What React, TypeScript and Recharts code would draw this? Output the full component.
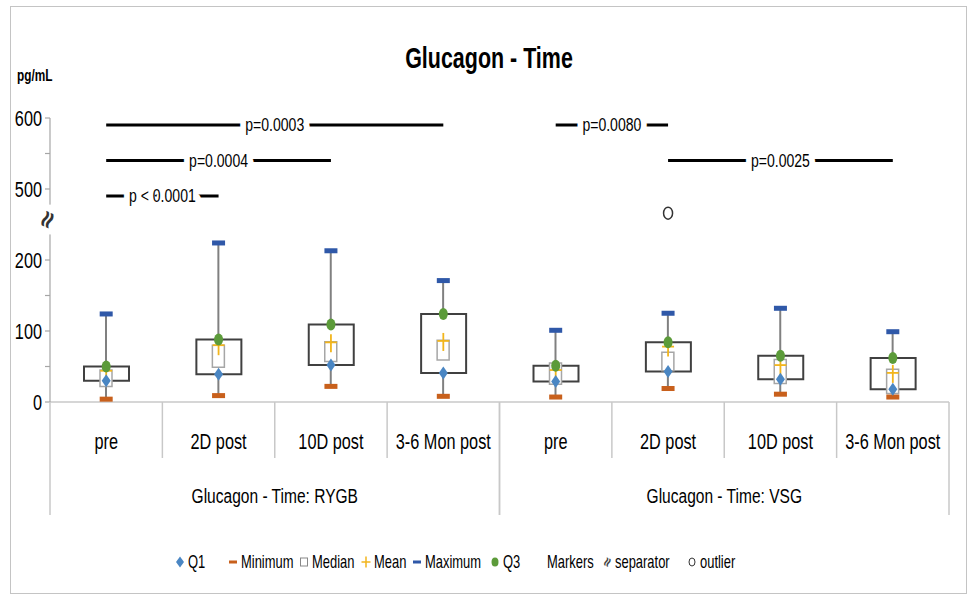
import React from "react";
import { Bar, ComposedChart, ReferenceLine, Scatter, XAxis, YAxis } from "recharts";

// no narrow font on the box, so Liberation Sans is squeezed horizontally
const FONT = "'Liberation Sans', Arial, sans-serif";
const SQUEEZE = 0.74;

const timepoints = ["pre", "2D post", "10D post", "3-6 Mon post", "pre", "2D post", "10D post", "3-6 Mon post"];
const groups = [
  "Glucagon - Time: RYGB", "Glucagon - Time: RYGB", "Glucagon - Time: RYGB", "Glucagon - Time: RYGB",
  "Glucagon - Time: VSG", "Glucagon - Time: VSG", "Glucagon - Time: VSG", "Glucagon - Time: VSG",
];

// pg/mL
const minimum = [4, 9, 22, 8, 7, 19, 11, 7];
const q1 = [30, 39, 52, 41, 29, 43, 32, 18];
const medianLow = [22, 49, 57, 59, 25, 44, 26, 12];
const medianHigh = [45, 80, 85, 87, 55, 70, 60, 46];
const mean = [44, 80, 84, 86, 45, 78, 52, 41];
const q3 = [50, 88, 109, 124, 51, 84, 65, 62];
const maximum = [124, 224, 213, 171, 101, 125, 132, 99];
const outlier: (number | null)[] = [null, null, null, null, null, 466, null, null];

// significance bars: from / to category index, height in pg/mL
const sigLabels = ["p < 0.0001", "p=0.0004", "p=0.0003", "p=0.0080", "p=0.0025"];
const sigFrom = [0, 0, 0, 4, 5];
const sigTo = [1, 2, 3, 5, 7];
const sigLevel = [490, 540, 590, 590, 540];

// y axis is broken: the 250..450 stretch is cut out
const BREAK_AT = 250;
const BREAK_GAP = 200;
const Y_MAX = 400;
const toAxis = (v: number) => (v > BREAK_AT ? v - BREAK_GAP : v);
const fromAxis = (d: number) => (d > BREAK_AT ? d + BREAK_GAP : d);
const yTicks = [0, 50, 100, 150, 200, 300, 350, 400];

const keys = timepoints.map((_, i) => String(i));

const data = timepoints.map((t, i) => ({
  key: keys[i],
  time: t,
  group: groups[i],
  whisker: [toAxis(minimum[i]), toAxis(maximum[i])],
  box: [toAxis(q1[i]), toAxis(q3[i])],
  median: [toAxis(medianLow[i]), toAxis(medianHigh[i])],
  min: toAxis(minimum[i]),
  max: toAxis(maximum[i]),
  q1: toAxis(q1[i]),
  q3: toAxis(q3[i]),
  mean: toAxis(mean[i]),
  outlier: outlier[i] == null ? null : toAxis(outlier[i] as number),
}));

const C_Q1 = "#4a86c3";
const C_MIN = "#c8601c";
const C_MEAN = "#f2b51c";
const C_MAX = "#2f58a8";
const C_Q3 = "#5c9b3a";

function NarrowText({ x, y, size, anchor = "middle", weight = 400, halo = 0, children }: any) {
  return (
    <text
      transform={`translate(${x} ${y}) scale(${SQUEEZE} 1)`}
      textAnchor={anchor}
      dominantBaseline="central"
      fontSize={size}
      fontWeight={weight}
      fontFamily={FONT}
      fill="#000"
      stroke={halo ? "#fff" : "none"}
      strokeWidth={halo}
      strokeLinejoin="round"
      paintOrder="stroke"
    >
      {children}
    </text>
  );
}

function CategoryTick(props: any) {
  const { x, y, payload, width, visibleTicksCount } = props;
  const i = Number(payload.value);
  const half = payload.offset > 0 ? payload.offset : width / visibleTicksCount / 2;
  const groupEnd = i === timepoints.length - 1 || groups[i + 1] !== groups[i];
  const groupStart = i === 0 || groups[i - 1] !== groups[i];
  const count = groups.filter((g) => g === groups[i]).length;
  return (
    <g>
      <NarrowText x={x} y={y + 39} size={22}>{timepoints[i]}</NarrowText>
      <line x1={x + half} y1={y} x2={x + half} y2={y + (groupEnd ? 113 : 56)} stroke="#c8c8c8" strokeWidth={1.5} />
      {groupStart && (
        <>
          <line x1={x - half} y1={y} x2={x - half} y2={y + 113} stroke="#c8c8c8" strokeWidth={1.5} />
          <NarrowText x={x - half + count * half} y={y + 94} size={21}>{groups[i]}</NarrowText>
        </>
      )}
    </g>
  );
}

function ValueTick(props: any) {
  const { x, y, payload } = props;
  if (payload.value % 100 !== 0) return null;
  return (
    <NarrowText x={x} y={y} size={22} anchor="end">{fromAxis(payload.value)}</NarrowText>
  );
}

function AxisBreak(props: any) {
  const vb = props.viewBox;
  if (!vb) return null;
  const ax = vb.x + vb.width;
  const py = (d: number) => vb.y + vb.height * (1 - d / Y_MAX);
  const top = py(278);
  const bottom = py(236);
  const mid = (top + bottom) / 2;
  return (
    <g>
      <rect x={ax - 5} y={top} width={10} height={bottom - top} fill="#fff" />
      <text x={ax - 3} y={mid} textAnchor="middle" dominantBaseline="central" fontSize={24} fontWeight={700}
        fontFamily="'DejaVu Sans', sans-serif" fill="#333" transform={`rotate(-65 ${ax - 3} ${mid})`}>
        ≈
      </text>
    </g>
  );
}

function SigText({ viewBox, text }: any) {
  if (!viewBox) return null;
  return (
    <NarrowText x={viewBox.x + viewBox.width / 2} y={viewBox.y} size={19} halo={16}>{text}</NarrowText>
  );
}

const WhiskerShape = (p: any) => (
  <line x1={p.x + p.width / 2} y1={p.y} x2={p.x + p.width / 2} y2={p.y + p.height} stroke="#808080" strokeWidth={2} />
);
const CapShape = (color: string) => (p: any) =>
  Number.isFinite(p.cy) ? <rect x={p.cx - 6.5} y={p.cy - 2.5} width={13} height={5} fill={color} /> : <g />;
const DiamondShape = (p: any) => (
  <polygon points={`${p.cx},${p.cy - 6.5} ${p.cx + 4.5},${p.cy} ${p.cx},${p.cy + 6.5} ${p.cx - 4.5},${p.cy}`} fill={C_Q1} />
);
const DotShape = (p: any) => <ellipse cx={p.cx} cy={p.cy} rx={4.5} ry={6} fill={C_Q3} />;
const MeanShape = (p: any) => (
  <g stroke={C_MEAN} strokeWidth={1.8}>
    <line x1={p.cx - 6} y1={p.cy} x2={p.cx + 6} y2={p.cy} />
    <line x1={p.cx} y1={p.cy - 8} x2={p.cx} y2={p.cy + 10} />
  </g>
);
const OutlierShape = (p: any) =>
  p.payload && p.payload.outlier != null && Number.isFinite(p.cy) ? (
    <ellipse cx={p.cx} cy={p.cy} rx={4.5} ry={6} fill="#fff" stroke="#333" strokeWidth={1.5} />
  ) : (
    <g />
  );

function LegendMarker({ kind, color, x, y }: any) {
  switch (kind) {
    case "diamond":
      return <polygon points={`${x},${y - 5.5} ${x + 4},${y} ${x},${y + 5.5} ${x - 4},${y}`} fill={color} />;
    case "dash":
      return <rect x={x - 4} y={y - 1.5} width={8} height={3} fill={color} />;
    case "square":
      return <rect x={x - 3.5} y={y - 4} width={7} height={8} fill="#fff" stroke="#888" />;
    case "plus":
      return (
        <g stroke={color} strokeWidth={1.5}>
          <line x1={x - 4.5} y1={y} x2={x + 4.5} y2={y} />
          <line x1={x} y1={y - 5.5} x2={x} y2={y + 5.5} />
        </g>
      );
    case "dot":
      return <ellipse cx={x} cy={y} rx={3.5} ry={4.5} fill={color} />;
    case "sep":
      return (
        <text x={x} y={y} textAnchor="middle" dominantBaseline="central" fontSize={13} fontWeight={700}
          fontFamily="'DejaVu Sans', sans-serif" fill="#444" transform={`rotate(-65 ${x} ${y})`}>≈</text>
      );
    case "ring":
      return <ellipse cx={x} cy={y} rx={3} ry={4} fill="#fff" stroke="#333" />;
    default:
      return null;
  }
}

const legendItems = [
  { name: "Q1", kind: "diamond", color: C_Q1, x: 180 },
  { name: "Minimum", kind: "dash", color: C_MIN, x: 233 },
  { name: "Median", kind: "square", x: 304 },
  { name: "Mean", kind: "plus", color: C_MEAN, x: 366 },
  { name: "Maximum", kind: "dash", color: C_MAX, x: 417 },
  { name: "Q3", kind: "dot", color: C_Q3, x: 495 },
  { name: "Markers", kind: "none", x: 547 },
  { name: "separator", kind: "sep", x: 607 },
  { name: "outlier", kind: "ring", x: 692 },
];

export default function App() {
  return (
    <div style={{ position: "fixed", left: 0, top: 0, width: 968, height: 594, background: "#fff", fontFamily: FONT, overflow: "hidden" }}>
      <div style={{ position: "absolute", left: 10, top: 6, width: 957, height: 588, border: "1.5px solid #c4c4c4", boxSizing: "border-box" }} />
      <div style={{ position: "absolute", left: 0, top: 0 }}>
        <ComposedChart width={968} height={594} data={data} margin={{ top: 118, right: 19, bottom: 72, left: 5 }}>
          <XAxis
            xAxisId="main"
            dataKey="key"
            height={120}
            interval={0}
            tickSize={0}
            tickMargin={0}
            tickLine={false}
            axisLine={{ stroke: "#c8c8c8", strokeWidth: 1.5 }}
            tick={<CategoryTick />}
          />
          <XAxis xAxisId="whisker" dataKey="key" hide />
          <XAxis xAxisId="median" dataKey="key" hide />
          <YAxis
            type="number"
            domain={[0, Y_MAX]}
            ticks={yTicks}
            interval={0}
            width={45}
            tickSize={5}
            tickMargin={3}
            axisLine={{ stroke: "#a6a6a6", strokeWidth: 1.2 }}
            tickLine={{ stroke: "#a6a6a6", strokeWidth: 1.2 }}
            tick={<ValueTick />}
            label={{ content: (p: any) => <AxisBreak {...p} /> }}
          />
          <Bar xAxisId="whisker" dataKey="whisker" barSize={2} shape={WhiskerShape} isAnimationActive={false} />
          <Bar xAxisId="main" dataKey="box" barSize={45} fill="#fff" stroke="#404040" strokeWidth={2} isAnimationActive={false} />
          <Bar xAxisId="median" dataKey="median" barSize={12} fill="#fff" stroke="#a6a6a6" strokeWidth={1.5} isAnimationActive={false} />
          <Scatter xAxisId="main" dataKey="mean" shape={MeanShape} isAnimationActive={false} />
          <Scatter xAxisId="main" dataKey="min" shape={CapShape(C_MIN)} isAnimationActive={false} />
          <Scatter xAxisId="main" dataKey="max" shape={CapShape(C_MAX)} isAnimationActive={false} />
          <Scatter xAxisId="main" dataKey="q1" shape={DiamondShape} isAnimationActive={false} />
          <Scatter xAxisId="main" dataKey="q3" shape={DotShape} isAnimationActive={false} />
          <Scatter xAxisId="main" dataKey="outlier" shape={OutlierShape} isAnimationActive={false} />
          {sigLabels.map((label, i) => (
            <ReferenceLine
              key={label}
              xAxisId="main"
              ifOverflow="visible"
              segment={[
                { x: keys[sigFrom[i]], y: toAxis(sigLevel[i]) },
                { x: keys[sigTo[i]], y: toAxis(sigLevel[i]) },
              ]}
              stroke="#000"
              strokeWidth={3}
              label={{ content: (p: any) => <SigText viewBox={p.viewBox} text={label} /> }}
            />
          ))}
        </ComposedChart>
      </div>
      <svg width={968} height={594} style={{ position: "absolute", left: 0, top: 0, pointerEvents: "none" }}>
        <NarrowText x={489} y={58} size={29} weight={700}>Glucagon - Time</NarrowText>
        <NarrowText x={17} y={75} size={16} weight={700} anchor="start">pg/mL</NarrowText>
        {legendItems.map((it) => (
          <g key={it.name}>
            <LegendMarker kind={it.kind} color={it.color} x={it.x} y={562} />
            <NarrowText x={it.kind === "none" ? it.x : it.x + 8} y={562} size={17.5} anchor="start">{it.name}</NarrowText>
          </g>
        ))}
      </svg>
    </div>
  );
}
